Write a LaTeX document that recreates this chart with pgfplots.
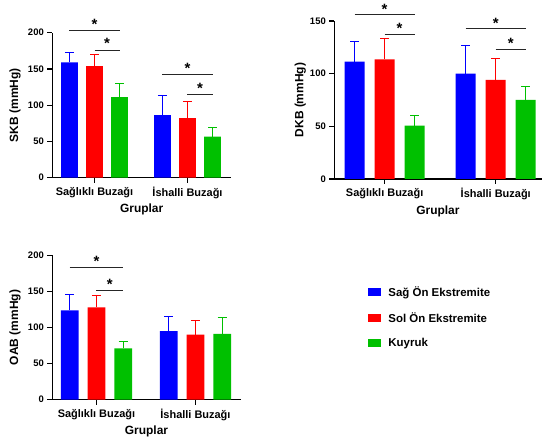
\documentclass[border=0pt]{standalone}
\usepackage{pgfplots}
\pgfplotsset{compat=1.18}
\usepackage{fontspec}
\setmainfont{Liberation Sans}
\definecolor{cblue}{RGB}{0,0,255}
\definecolor{cred}{RGB}{255,0,0}
\definecolor{cgreen}{RGB}{0,192,0}

\pgfplotsset{
  panel/.style={
    scale only axis, clip=false,
    axis x line*=bottom, axis y line*=left,
    axis line style={line width=1.5bp,-},
    tick align=outside,
    major tick length=5bp,
    tick style={black,line width=1.2bp},
    xtick={0,1}, xticklabels={Sağlıklı Buzağı, İshalli Buzağı},
    x tick label style={font=\bfseries\fontsize{11}{13}\selectfont, yshift=-1bp},
    y tick label style={font=\bfseries\fontsize{9.5}{11}\selectfont},
    /pgf/number format/assume math mode=true,
    ymin=0, minor tick num=0,
    xlabel={Gruplar},
    xlabel style={font=\bfseries\fontsize{12}{14}\selectfont, at={(axis description cs:0.5,0)}, anchor=center, yshift=-32bp},
    ylabel style={font=\bfseries\fontsize{12}{14}\selectfont, anchor=center},
  },
  bar/.style={ybar, bar width=0.18, bar shift=0pt, fill=#1, draw=none,
    error bars/y dir=plus, error bars/y explicit,
    error bars/error bar style={draw=#1, line width=1bp},
    error bars/error mark options={draw=#1, rotate=90, mark size=4.5bp, line width=1bp}},
}
\tikzset{
  sig/.style={line width=1bp, black!85},
  star/.style={font=\bfseries\fontsize{15}{15}\selectfont, anchor=base, yshift=-8.5bp, inner sep=0pt},
}

\begin{document}
\begin{tikzpicture}
\path[use as bounding box] (0,0) rectangle (542bp,439bp);

% SKB
\begin{axis}[panel, at={(52.3bp,261.3bp)}, anchor=south west,
  width=178.7bp, height=145bp, xmin=-0.454, xmax=1.468, ymax=200,
  ytick={0,50,100,150,200},
  ylabel={SKB (mmHg)}, ylabel style={at={(axis description cs:-0.209,0.5)}}]
\addplot[bar=cblue] coordinates {(-0.27,159) +- (0,13.4) (0.73,86.4) +- (0,27.6)};
\addplot[bar=cred] coordinates {(0,154) +- (0,16) (1,82.3) +- (0,23)};
\addplot[bar=cgreen] coordinates {(0.27,111.3) +- (0,18.4) (1.27,56.6) +- (0,12.4)};
\draw[sig] (axis cs:-0.27,203.2) -- (axis cs:0.27,203.2);
\draw[sig] (axis cs:0,176) -- (axis cs:0.27,176);
\draw[sig] (axis cs:0.73,142.5) -- (axis cs:1.27,142.5);
\draw[sig] (axis cs:1,115) -- (axis cs:1.27,115);
\node[star] at (axis cs:0,216.6) {*};
\node[star] at (axis cs:0.135,190) {*};
\node[star] at (axis cs:1,155.4) {*};
\node[star] at (axis cs:1.135,127.9) {*};
\end{axis}

% DKB
\begin{axis}[panel, at={(334.3bp,260bp)}, anchor=south west,
  width=207.2bp, height=158bp, xmin=-0.453, xmax=1.412, ymax=150,
  ytick={0,50,100,150},
  ylabel={DKB (mmHg)}, ylabel style={at={(axis description cs:-0.164,0.5)}}]
\addplot[bar=cblue] coordinates {(-0.27,111.4) +- (0,19) (0.73,100) +- (0,27)};
\addplot[bar=cred] coordinates {(0,113.6) +- (0,20) (1,94) +- (0,20.6)};
\addplot[bar=cgreen] coordinates {(0.27,50.6) +- (0,9.9) (1.27,75) +- (0,12.6)};
\draw[sig] (axis cs:-0.27,156) -- (axis cs:0.27,156);
\draw[sig] (axis cs:0,137.4) -- (axis cs:0.27,137.4);
\draw[sig] (axis cs:0.73,143) -- (axis cs:1.27,143);
\draw[sig] (axis cs:1,123.4) -- (axis cs:1.27,123.4);
\node[star] at (axis cs:0,164.2) {*};
\node[star] at (axis cs:0.135,146) {*};
\node[star] at (axis cs:1,151) {*};
\node[star] at (axis cs:1.135,132) {*};
\end{axis}

% OAB
\begin{axis}[panel, at={(52.3bp,39.3bp)}, anchor=south west,
  width=188.4bp, height=144.4bp, xmin=-0.446, xmax=1.457, ymax=200,
  ytick={0,50,100,150,200},
  ylabel={OAB (mmHg)}, ylabel style={at={(axis description cs:-0.198,0.5)}},
  legend style={at={(axis description cs:1.677,0.80)}, anchor=north west,
    draw=none, fill=none, inner sep=0pt,
    font=\bfseries\fontsize{11.5}{13}\selectfont,
    row sep=10.8bp,
    /tikz/every odd column/.append style={column sep=5bp}},
  legend cell align=left,
  legend image code/.code={\fill[#1] (0bp,-4bp) rectangle (13bp,4bp);}]
\addplot[bar=cblue] coordinates {(-0.27,123.7) +- (0,21.7) (0.73,95.1) +- (0,20.8)};
\addplot[bar=cred] coordinates {(0,127.9) +- (0,16.1) (1,90) +- (0,19.9)};
\addplot[bar=cgreen] coordinates {(0.27,71.1) +- (0,9.2) (1.27,91) +- (0,23)};
\legend{Sağ Ön Ekstremite, Sol Ön Ekstremite, Kuyruk}
\draw[sig] (axis cs:-0.27,182.8) -- (axis cs:0.27,182.8);
\draw[sig] (axis cs:0,151) -- (axis cs:0.27,151);
\node[star] at (axis cs:0,196.7) {*};
\node[star] at (axis cs:0.135,164.4) {*};
\end{axis}
\end{tikzpicture}
\end{document}
